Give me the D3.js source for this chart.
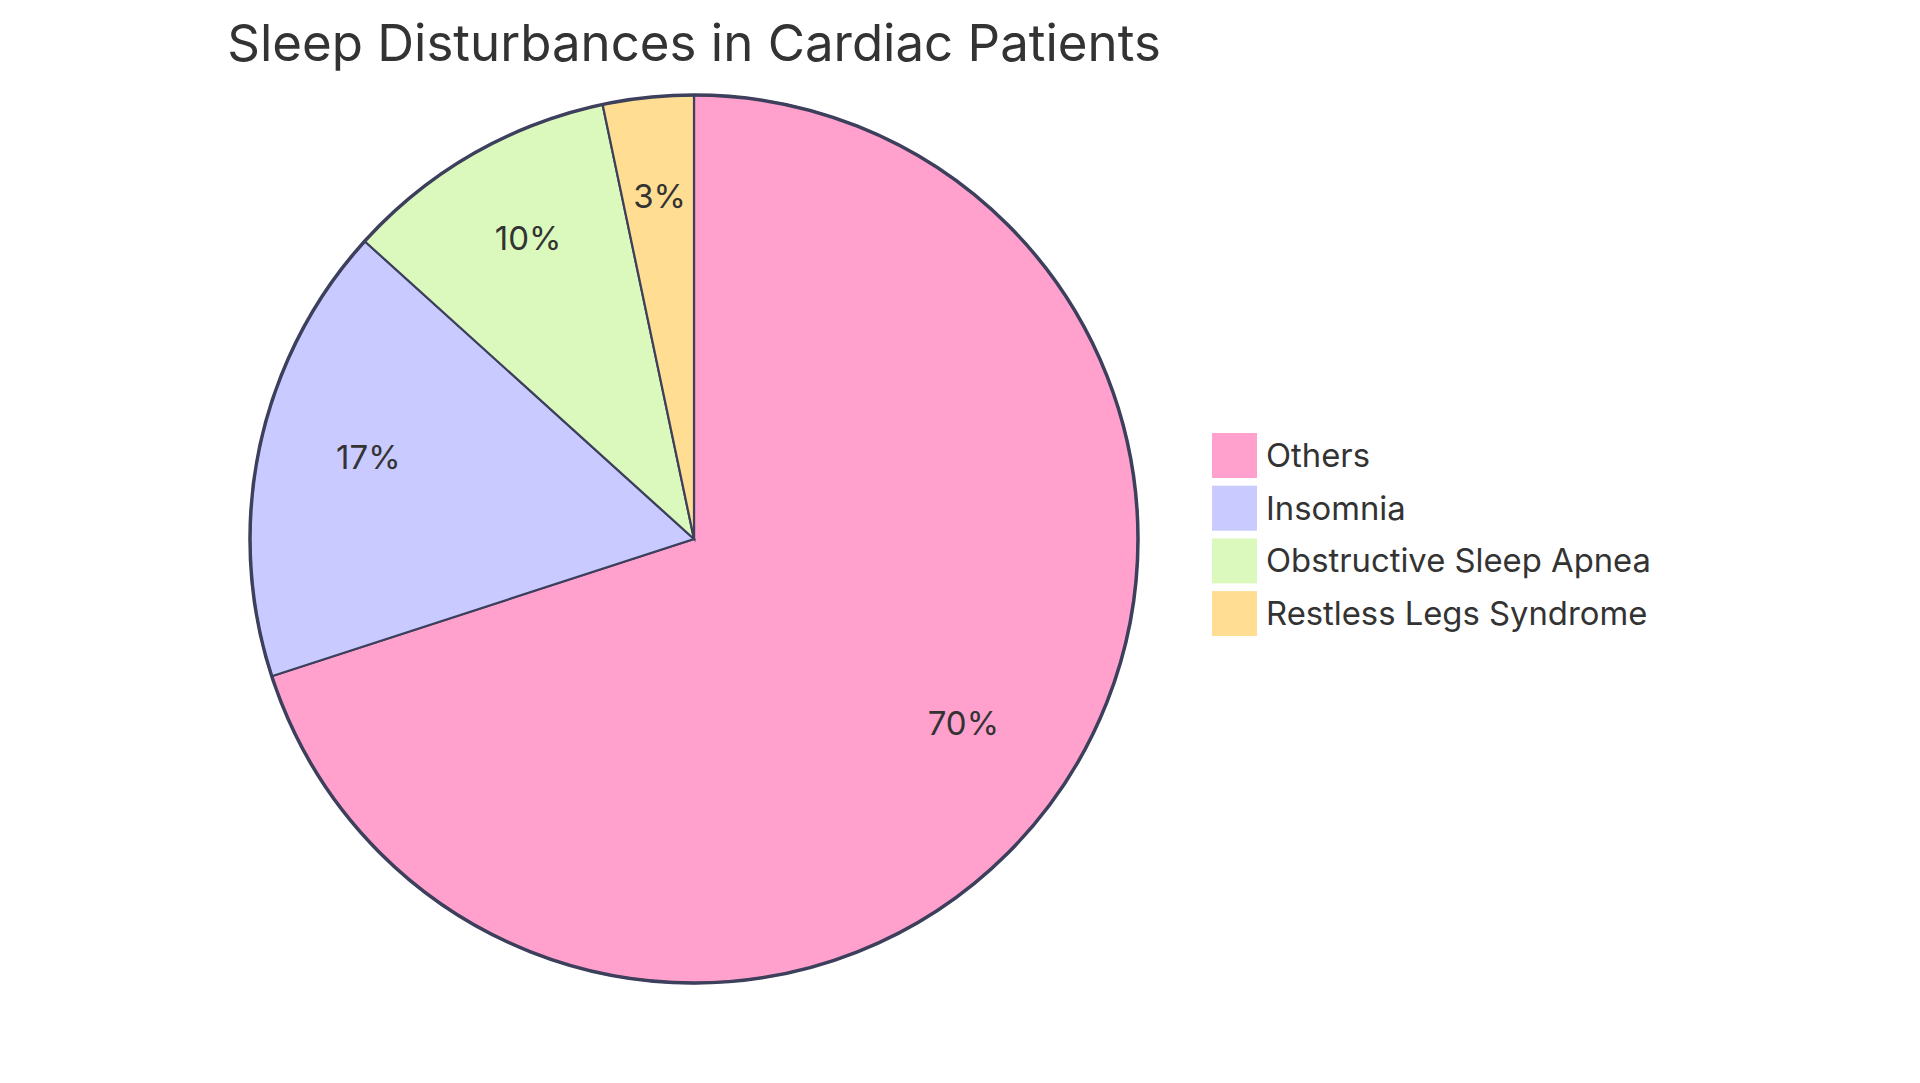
<!DOCTYPE html>
<html>
<head>
<meta charset="utf-8">
<script src="https://cdn.jsdelivr.net/npm/d3@7"></script>
<style>
  html, body { margin: 0; padding: 0; background: #ffffff; }
  svg { display: block; }
  text { font-family: Inter, "Open Sans", sans-serif; fill: #333333; }
</style>
</head>
<body>
<svg id="chart" width="1920" height="1083"></svg>
<script>
const title = "Sleep Disturbances in Cardiac Patients";
const categories = ["Others", "Insomnia", "Obstructive Sleep Apnea", "Restless Legs Syndrome"];
const values = [70, 16.7, 10, 3.3];
const colors = ["#ffa1cc", "#c9caff", "#dbf9bd", "#ffde93"];

const W = 1920, H = 1083;
const cx = 694, cy = 539, R = 444;
const svg = d3.select("#chart");

const data = categories.map((c, i) => ({ name: c, value: values[i], color: colors[i] }));
const total = d3.sum(values);

const pie = d3.pie().value(d => d.value).sort(null);
const arcs = pie(data);
const arc = d3.arc().innerRadius(0).outerRadius(R);
const labelArc = d3.arc().innerRadius(R * 0.75).outerRadius(R * 0.75);

const g = svg.append("g").attr("transform", `translate(${cx},${cy})`);

g.selectAll("path.slice")
  .data(arcs)
  .join("path")
  .attr("class", "slice")
  .attr("d", arc)
  .attr("fill", d => d.data.color)
  .attr("stroke", "#3d405c")
  .attr("stroke-width", 2.2);

g.append("circle")
  .attr("r", R)
  .attr("fill", "none")
  .attr("stroke", "#3d405c")
  .attr("stroke-width", 3.5);

g.selectAll("text.pct")
  .data(arcs)
  .join("text")
  .attr("class", "pct")
  .attr("transform", d => `translate(${labelArc.centroid(d)})`)
  .attr("text-anchor", "middle")
  .style("font-size", "33px")
  .text(d => (d.data.value / total * 100).toFixed(0) + "%");

svg.append("text")
  .attr("x", cx)
  .attr("y", 61)
  .attr("text-anchor", "middle")
  .style("font-size", "51px")
  .text(title);

const legendY = d3.scaleBand()
  .domain(categories)
  .range([429, 429 + 52.7 * categories.length])
  .paddingInner(0);

const lg = svg.append("g");
const items = lg.selectAll("g.item")
  .data(data)
  .join("g")
  .attr("class", "item")
  .attr("transform", d => `translate(1212,${legendY(d.name)})`);

items.append("rect")
  .attr("x", 0)
  .attr("y", 4)
  .attr("width", 45)
  .attr("height", 45)
  .attr("fill", d => d.color);

items.append("text")
  .attr("x", 54)
  .attr("y", 38)
  .style("font-size", "32.8px")
  .text(d => d.name);
</script>
</body>
</html>
